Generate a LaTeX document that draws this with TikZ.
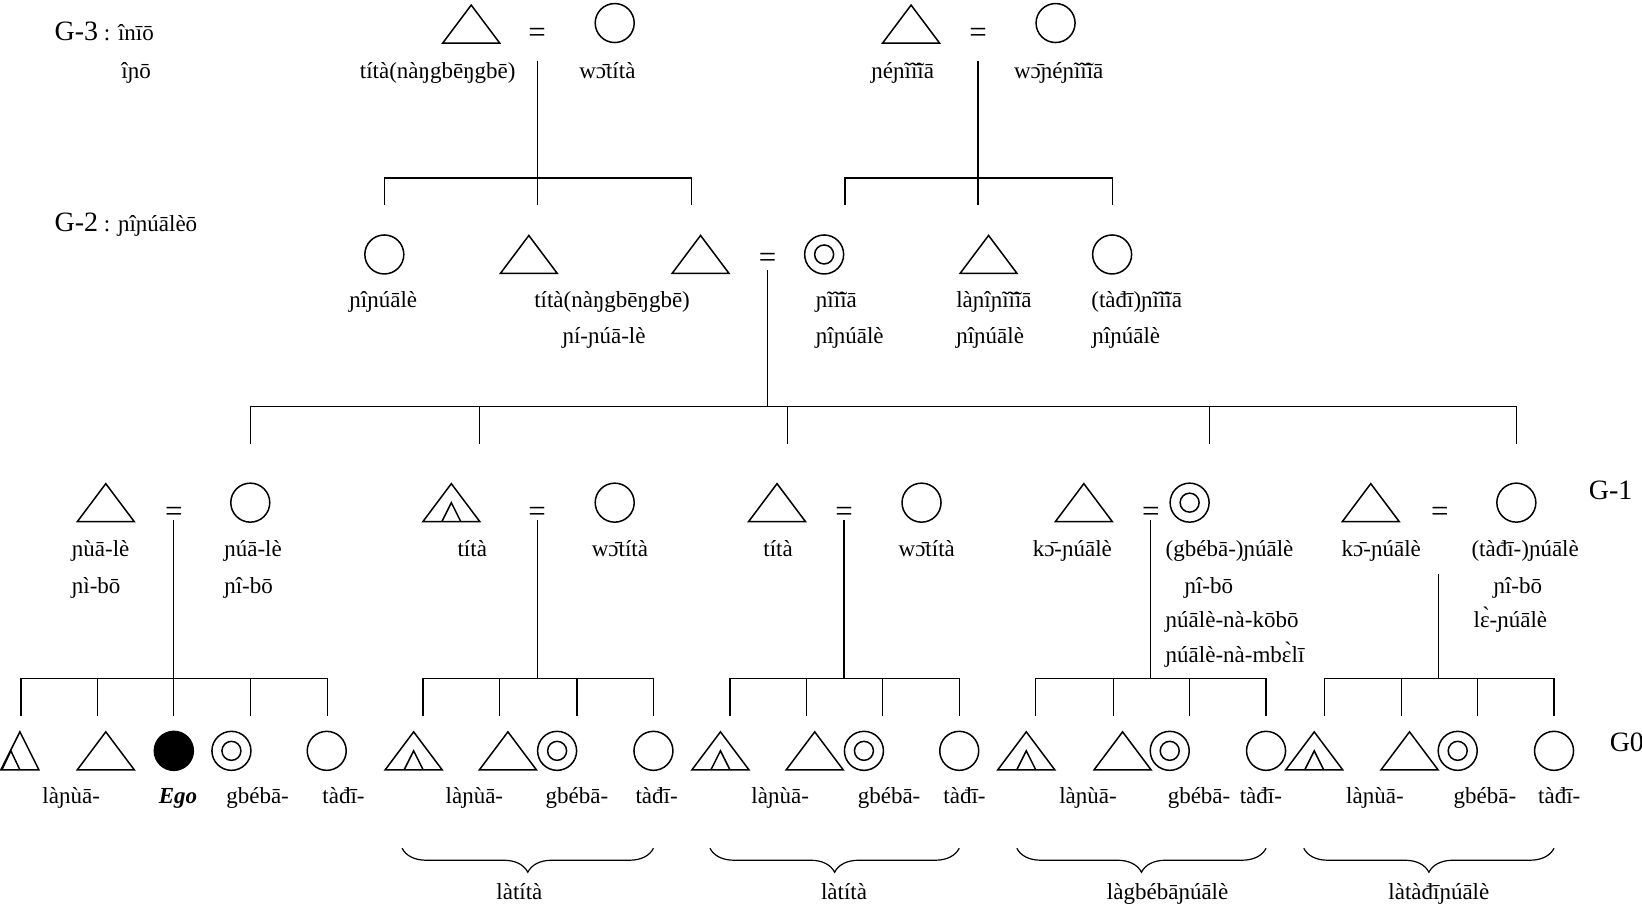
\documentclass[tikz,border=0pt]{standalone}
\usepackage{fontspec}
\setmainfont{Liberation Serif}
\usetikzlibrary{decorations.pathreplacing}
\begin{document}
\begin{tikzpicture}[x=1.0472pt, y=-1.0472pt,
  sym/.style={line width=1.5pt, line join=miter},
  conn/.style={line width=1.2pt},
  indiv/.style={minimum width=57pt, minimum height=38pt, inner sep=0pt, outer sep=0pt},
  male/.style={indiv, append after command={\pgfextra{\draw[sym] (\tikzlastnode.south west) -- (\tikzlastnode.north) -- (\tikzlastnode.south east) -- cycle;}}},
  malein/.style={male, append after command={\pgfextra{\draw[sym] (\tikzlastnode.south) ++(-9.5pt,0pt) -- ++(9.5pt,19pt) -- ++(9.5pt,-19pt);}}},
  malenarrow/.style={minimum width=38pt, minimum height=38pt, inner sep=0pt, outer sep=0pt,
    append after command={\pgfextra{
      \draw[sym] (\tikzlastnode.south west) -- (\tikzlastnode.north) -- (\tikzlastnode.south east) -- cycle;
      \draw[sym] (\tikzlastnode.south west) ++(1pt,0pt) -- ++(9pt,19pt) -- ++(9pt,-19pt);}}},
  female/.style={circle, draw, sym, minimum size=39pt, inner sep=0pt, outer sep=0pt},
  femdbl/.style={female, append after command={\pgfextra{\draw[sym] (\tikzlastnode.center) circle[radius=9.5pt];}}},
  ego/.style={female, fill=black},
  lbl/.style={font=\fontsize{23}{27}\selectfont, inner sep=0pt, anchor=base},
  lblw/.style={lbl, anchor=base west},
  eqsign/.style={font=\fontsize{31}{31}\selectfont, inner sep=0pt},
  gen/.style={font=\fontsize{28}{32}\selectfont, inner sep=0pt, anchor=base west},
  brc/.style={decorate, decoration={brace, mirror, amplitude=24pt}, line width=1.2pt},
]
\useasboundingbox (0,0) rectangle (1568,866);
\fill[white] (0,0) rectangle (1568,866);

% generation labels
\node[gen] (g3) at (52,39) {G-3\fontsize{23}{27}\selectfont{} : înīō};
\node[lbl] (g3b) at (130,75) {îɲō};
\node[gen] (g2) at (52,221) {G-2\fontsize{23}{27}\selectfont{} : ɲîɲúālèō};
\node[gen] (g1) at (1517,477) {G-1};
\node[gen] (g0) at (1537,718) {G0};

% ---- G-3 ----
\node[male]   (m3a) at (450,23) {};
\node[eqsign] (e3a) at (513,34) {=};
\node[female] (f3a) at (587,22) {};
\node[lbl] (m3al) at (418,75) {títà(nàŋgbēŋgbē)};
\node[lbl] (f3al) at (580,75) {wɔ̄títà};
\node[male]   (m3b) at (870,23) {};
\node[eqsign] (e3b) at (934,34) {=};
\node[female] (f3b) at (1008,22) {};
\node[lbl] (m3bl) at (862,75) {ɲéɲĩĩ̄ĩā};
\node[lbl] (f3bl) at (1011,75) {wɔ̄ɲéɲĩĩ̄ĩā};

% ---- G-2 ----
\node[female] (f2a) at (367,243) {};
\node[male]   (m2a) at (505,243) {};
\node[male]   (m2b) at (669,243) {};
\node[eqsign] (e2)  at (733,249) {=};
\node[femdbl] (f2b) at (787,243) {};
\node[male]   (m2c) at (944,243) {};
\node[female] (f2c) at (1062,243) {};
\node[lbl]  (f2al)  at (366,294) {ɲîɲúālè};
\node[lblw] (m2bl)  at (510,294) {títà(nàŋgbēŋgbē)};
\node[lblw] (m2bl2) at (537,328) {ɲí-ɲúā-lè};
\node[lblw] (f2bl)  at (779,294) {ɲĩĩ̄ĩā};
\node[lblw] (f2bl2) at (779,328) {ɲîɲúālè};
\node[lblw] (m2cl)  at (913,294) {làɲîɲĩĩ̄ĩā};
\node[lblw] (m2cl2) at (913,328) {ɲîɲúālè};
\node[lblw] (f2cl)  at (1042,294) {(tàđī)ɲĩĩ̄ĩā};
\node[lblw] (f2cl2) at (1043,328) {ɲîɲúālè};

% sibling bars G-2
\coordinate (b2a) at (513,170);
\coordinate (d2a1) at (367,196); \coordinate (d2a2) at (513,196); \coordinate (d2a3) at (660,196);
\draw[conn] (e3a.center) ++(0,24) -- (b2a);
\draw[conn] (d2a1) -- ++(0,-26) -| (d2a3);
\draw[conn] (d2a2) -- (b2a);
\coordinate (b2b) at (934,170);
\coordinate (d2b1) at (807,196); \coordinate (d2b2) at (934,196); \coordinate (d2b3) at (1062,196);
\draw[conn] (e3b.center) ++(0,24) -- (b2b);
\draw[conn] (d2b1) -- ++(0,-26) -| (d2b3);
\draw[conn] (d2b2) -- (b2b);

% ---- G-1 ----
\node[male]   (m1a) at (101,480) {};
\node[eqsign] (e1a) at (166,491) {=};
\node[female] (f1a) at (239,480) {};
\node[malein] (m1b) at (431,480) {};
\node[eqsign] (e1b) at (513,491) {=};
\node[female] (f1b) at (587,480) {};
\node[male]   (m1c) at (742,480) {};
\node[eqsign] (e1c) at (806,491) {=};
\node[female] (f1c) at (880,480) {};
\node[male]   (m1d) at (1035,480) {};
\node[eqsign] (e1d) at (1099,491) {=};
\node[femdbl] (f1d) at (1136,480) {};
\node[male]   (m1e) at (1309,480) {};
\node[eqsign] (e1e) at (1375,491) {=};
\node[female] (f1e) at (1448,480) {};

\node[lblw] at (68.5,531) {ɲùā-lè};
\node[lblw] at (68.5,567) {ɲì-bō};
\node[lblw] at (214,531) {ɲúā-lè};
\node[lblw] at (214,567) {ɲî-bō};
\node[lbl]  at (451,531) {títà};
\node[lbl]  at (592,531) {wɔ̄títà};
\node[lbl]  at (743,531) {títà};
\node[lbl]  at (885,531) {wɔ̄títà};
\node[lbl]  at (1024,531) {kɔ̄-ɲúālè};
\node[lblw] at (1113,531) {(gbébā-)ɲúālè};
\node[lblw] at (1131,567) {ɲî-bō};
\node[lblw] at (1113,599) {ɲúālè-nà-kōbō};
\node[lblw] at (1113,633) {ɲúālè-nà-mbɛ̀lī};
\node[lbl]  at (1319,531) {kɔ̄-ɲúālè};
\node[lblw] at (1405,531) {(tàđī-)ɲúālè};
\node[lblw] at (1426,567) {ɲî-bō};
\node[lblw] at (1407,599) {lɛ̀-ɲúālè};

% sibling bar G-1
\coordinate (b1) at (733,388);
\draw[conn] (e2.center) ++(0,9) -- (b1);
\coordinate (d1a) at (239,424); \coordinate (d1b) at (458,424); \coordinate (d1c) at (752,424);
\coordinate (d1d) at (1155,424); \coordinate (d1e) at (1448,424);
\draw[conn] (d1a) -- ++(0,-36) -| (d1e);
\foreach \d in {d1b,d1c,d1d} \draw[conn] (\d) -- ++(0,-36);

% ---- G0 ----
\node[malenarrow] (n0a) at (19,717) {};
\node[male]   (n0b) at (101,717) {};
\node[ego]    (n0c) at (166,717) {};
\node[femdbl] (n0d) at (221,717) {};
\node[female] (n0e) at (312,717) {};
\node[malein] (n2a) at (395,717) {};
\node[male]   (n2b) at (485,717) {};
\node[femdbl] (n2c) at (532,717) {};
\node[female] (n2d) at (624,717) {};
\node[malein] (n3a) at (688,717) {};
\node[male]   (n3b) at (778,717) {};
\node[femdbl] (n3c) at (825,717) {};
\node[female] (n3d) at (916,717) {};
\node[malein] (n4a) at (980,717) {};
\node[male]   (n4b) at (1072,717) {};
\node[femdbl] (n4c) at (1117,717) {};
\node[female] (n4d) at (1209,717) {};
\node[malein] (n5a) at (1255,717) {};
\node[male]   (n5b) at (1346,717) {};
\node[femdbl] (n5c) at (1392,717) {};
\node[female] (n5d) at (1484,717) {};

\node[lbl] at (68,767) {làɲùā-};
\node[lbl, font=\fontsize{23}{27}\selectfont\bfseries\itshape] at (170,767) {Ego};
\node[lbl] at (246,767) {gbébā-};
\node[lbl] at (328,767) {tàđī-};
\node[lbl] at (453,767) {làɲùā-};
\node[lbl] at (551,767) {gbébā-};
\node[lbl] at (627,767) {tàđī-};
\node[lbl] at (745,767) {làɲùā-};
\node[lbl] at (849,767) {gbébā-};
\node[lbl] at (921,767) {tàđī-};
\node[lbl] at (1039,767) {làɲùā-};
\node[lbl] at (1145,767) {gbébā-};
\node[lbl] at (1204,767) {tàđī-};
\node[lbl] at (1313,767) {làɲùā-};
\node[lbl] at (1418,767) {gbébā-};
\node[lbl] at (1489,767) {tàđī-};

% sibling bars G0
\coordinate (t1) at (166,648);
\draw[conn] (e1a.center) ++(0,6) -- (t1);
\coordinate (k11) at (20,684); \coordinate (k12) at (93,684); \coordinate (k13) at (166,684);
\coordinate (k14) at (239,684); \coordinate (k15) at (313,684);
\draw[conn] (k11) -- ++(0,-36) -| (k15);
\foreach \d in {k12,k13,k14} \draw[conn] (\d) -- ++(0,-36);

\coordinate (t2) at (513,648);
\draw[conn] (e1b.center) ++(0,6) -- (t2);
\coordinate (k21) at (404,684); \coordinate (k22) at (477,684); \coordinate (k23) at (551,684); \coordinate (k24) at (624,684);
\draw[conn] (k21) -- ++(0,-36) -| (k24);
\foreach \d in {k22,k23} \draw[conn] (\d) -- ++(0,-36);

\coordinate (t3) at (806,648);
\draw[conn] (e1c.center) ++(0,6) -- (t3);
\coordinate (k31) at (697,684); \coordinate (k32) at (770,684); \coordinate (k33) at (843,684); \coordinate (k34) at (916,684);
\draw[conn] (k31) -- ++(0,-36) -| (k34);
\foreach \d in {k32,k33} \draw[conn] (\d) -- ++(0,-36);

\coordinate (t4) at (1099,648);
\draw[conn] (e1d.center) ++(0,6) -- (t4);
\coordinate (k41) at (989,684); \coordinate (k42) at (1063,684); \coordinate (k43) at (1136,684); \coordinate (k44) at (1209,684);
\draw[conn] (k41) -- ++(0,-36) -| (k44);
\foreach \d in {k42,k43} \draw[conn] (\d) -- ++(0,-36);

\coordinate (t5) at (1374,648);
\coordinate (v5) at (1374,548);
\draw[conn] (v5) -- (t5);
\coordinate (k51) at (1265,684); \coordinate (k52) at (1338,684); \coordinate (k53) at (1411,684); \coordinate (k54) at (1484,684);
\draw[conn] (k51) -- ++(0,-36) -| (k54);
\foreach \d in {k52,k53} \draw[conn] (\d) -- ++(0,-36);

% ---- braces ----
\coordinate (r1a) at (384,810); \coordinate (r1b) at (624,810);
\coordinate (r2a) at (678,810); \coordinate (r2b) at (916,810);
\coordinate (r3a) at (971,810); \coordinate (r3b) at (1209,810);
\coordinate (r4a) at (1245,810); \coordinate (r4b) at (1484,810);
\draw[brc] (r1a) -- (r1b);
\draw[brc] (r2a) -- (r2b);
\draw[brc] (r3a) -- (r3b);
\draw[brc] (r4a) -- (r4b);
\node[lbl] (w1) at (496,859) {làtítà};
\node[lbl] (w2) at (806,859) {làtítà};
\node[lbl] (w3) at (1115,859) {làgbébāɲúālè};
\node[lbl] (w4) at (1374,859) {làtàđīɲúālè};
\end{tikzpicture}
\end{document}
